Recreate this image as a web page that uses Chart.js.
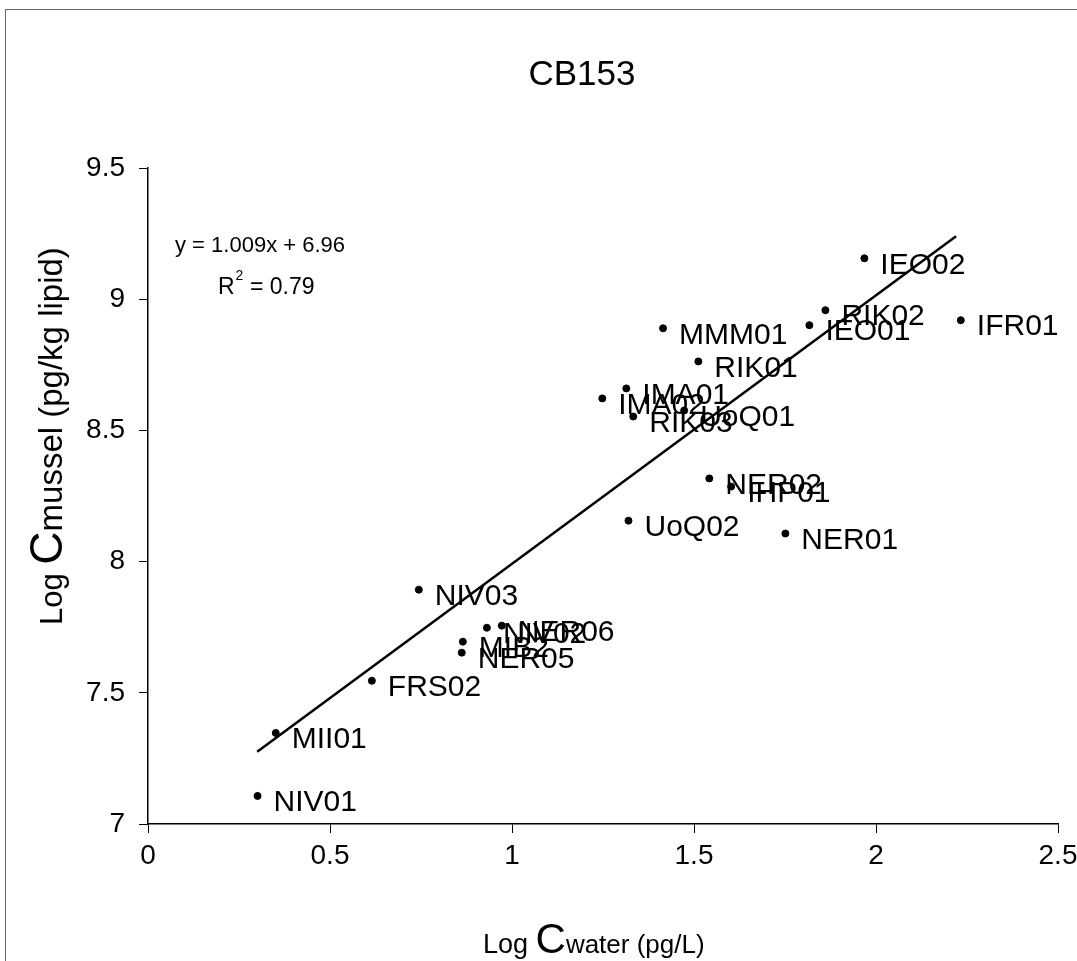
<!DOCTYPE html>
<html>
<head>
<meta charset="utf-8">
<script src="https://cdn.jsdelivr.net/npm/chart.js@4"></script>
<style>
  body { margin: 0; background: #fff; }
  canvas { display: block; }
</style>
</head>
<body>
<canvas id="myChart" width="1077" height="961"></canvas>
<script>
// point names and values
const labs = ['IEO02', 'RIK02', 'IEO01', 'IFR01', 'MMM01', 'RIK01', 'IMA01', 'IMA02', 'RIK03', 'UoQ01',
    'NER02', 'IHP01', 'UoQ02', 'NER01', 'NIV03', 'NIV02', 'NER06', 'MIB2', 'NER05', 'FRS02', 'MII01', 'NIV01'];
const logWater = [1.968, 1.861, 1.817, 2.233, 1.415, 1.512, 1.314, 1.248, 1.333, 1.473,
    1.542, 1.602, 1.320, 1.751, 0.744, 0.931, 0.972, 0.865, 0.862, 0.615, 0.351, 0.301];
const logMussel = [9.156, 8.958, 8.901, 8.920, 8.889, 8.763, 8.660, 8.622, 8.553, 8.576,
    8.317, 8.286, 8.156, 8.107, 7.893, 7.748, 7.756, 7.695, 7.653, 7.546, 7.347, 7.107];

// regression line end points as drawn
const trendX = [0.30, 2.22];
const trendY = [7.275, 9.24];

const xTicks = [0, 0.5, 1, 1.5, 2, 2.5];
const yTicks = [7, 7.5, 8, 8.5, 9, 9.5];

const FONT = '"Liberation Sans", Arial, sans-serif';
Chart.defaults.font.family = FONT;
Chart.defaults.color = '#000';

const points = logWater.map((v, i) => ({ x: v, y: logMussel[i] }));
const trend = trendX.map((v, i) => ({ x: v, y: trendY[i] }));

const extras = {
    id: 'extras',
    afterDatasetsDraw(chart) {
        const ctx = chart.ctx;
        const xs = chart.scales.x, ys = chart.scales.y;
        ctx.save();
        ctx.fillStyle = '#000';

        // point labels
        ctx.font = '30px ' + FONT;
        ctx.textBaseline = 'middle';
        ctx.textAlign = 'left';
        points.forEach((p, i) => {
            ctx.fillText(labs[i], xs.getPixelForValue(p.x) + 16, ys.getPixelForValue(p.y) + 7);
        });

        // title
        ctx.textAlign = 'center';
        ctx.textBaseline = 'alphabetic';
        ctx.font = '35px ' + FONT;
        ctx.fillText('CB153', 582, 85);

        // equation
        ctx.textAlign = 'left';
        ctx.font = '22px ' + FONT;
        ctx.fillText('y = 1.009x + 6.96', 175, 252);
        ctx.font = '23px ' + FONT;
        ctx.fillText('R', 218, 294);
        let w = ctx.measureText('R').width;
        ctx.font = '14px ' + FONT;
        ctx.fillText('2', 218 + w + 1, 280);
        ctx.font = '23px ' + FONT;
        ctx.fillText(' = 0.79', 218 + w + 9, 294);

        // axis titles with a large C
        const drawMixed = (parts, x, y) => {
            let cx = x;
            parts.forEach(([t, s]) => {
                ctx.font = s + 'px ' + FONT;
                ctx.fillText(t, cx, y);
                cx += ctx.measureText(t).width;
            });
        };
        drawMixed([['Log ', 27], ['C', 42], ['water (pg/L)', 26]], 483, 953);

        ctx.translate(62, 625);
        ctx.rotate(-Math.PI / 2);
        drawMixed([['Log ', 31], ['C', 46], ['mussel (pg/kg lipid)', 33]], 0, 0);
        ctx.restore();

        // outer frame
        ctx.save();
        ctx.strokeStyle = '#666';
        ctx.lineWidth = 1;
        ctx.strokeRect(5.5, 9.5, 1200, 1200);
        ctx.restore();
    }
};

new Chart(document.getElementById('myChart').getContext('2d'), {
    type: 'scatter',
    data: {
        datasets: [{
            label: 'CB153',
            data: points,
            backgroundColor: '#000',
            borderColor: '#000',
            pointRadius: 3.5,
            pointHoverRadius: 3.5
        }, {
            type: 'line',
            label: 'trend',
            data: trend,
            borderColor: '#000',
            borderWidth: 2.5,
            pointRadius: 0,
            fill: false,
            tension: 0
        }]
    },
    options: {
        responsive: false,
        animation: false,
        events: [],
        layout: { padding: { left: 0, top: 168, right: 19, bottom: 0 } },
        plugins: {
            legend: { display: false },
            tooltip: { enabled: false }
        },
        scales: {
            x: {
                type: 'linear',
                min: 0,
                max: 2.5,
                afterBuildTicks: s => { s.ticks = xTicks.map(v => ({ value: v })); },
                afterFit: s => { s.height = 137; s.paddingLeft = 0; s.paddingRight = 0; },
                ticks: {
                    font: { size: 28 },
                    color: '#000',
                    padding: 6,
                    maxRotation: 0,
                    callback: v => String(v)
                },
                grid: { drawOnChartArea: false, tickLength: 9, color: '#000', lineWidth: 1 },
                border: { color: '#000', width: 1.5 }
            },
            y: {
                type: 'linear',
                min: 7,
                max: 9.5,
                afterBuildTicks: s => { s.ticks = yTicks.map(v => ({ value: v })); },
                afterFit: s => { s.width = 148; s.paddingTop = 0; s.paddingBottom = 0; },
                ticks: {
                    font: { size: 28 },
                    color: '#000',
                    padding: 14,
                    callback: v => String(v)
                },
                grid: { drawOnChartArea: false, tickLength: 9, color: '#000', lineWidth: 1 },
                border: { color: '#000', width: 1.5 }
            }
        }
    },
    plugins: [extras]
});
</script>
</body>
</html>
